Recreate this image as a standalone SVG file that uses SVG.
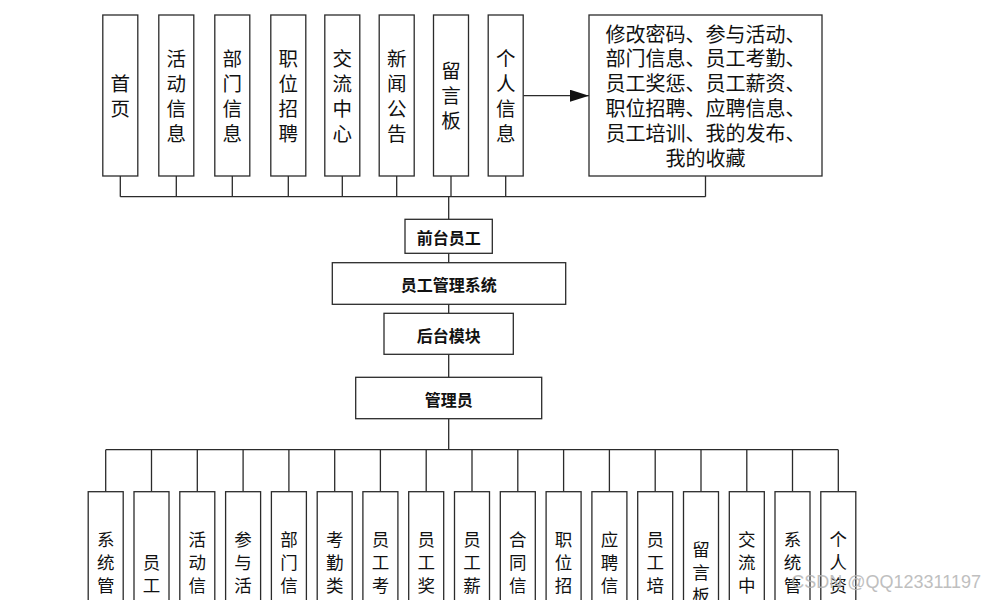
<svg xmlns="http://www.w3.org/2000/svg" width="984" height="600" viewBox="0 0 984 600">
<style>
.box{fill:#fff;stroke:#2b2b2b;stroke-width:1.3}
.ln{fill:none;stroke:#2b2b2b;stroke-width:1.3}
.t{font-family:"Noto Sans CJK SC","Liberation Sans",sans-serif;fill:#111;text-anchor:middle;dominant-baseline:central}
.top{font-size:19.5px}
.bot{font-size:17.5px}
.mid{font-size:16px;font-weight:bold}
.wm{font-family:"Liberation Sans",Arial,sans-serif;font-size:18px;fill:#b5b5b5;opacity:0.85;text-anchor:end}
</style>
<defs>
<marker id="arr" viewBox="0 0 19 12" refX="19" refY="6" markerWidth="19" markerHeight="12" markerUnits="userSpaceOnUse" orient="auto">
<path d="M0,0 L19,6 L0,12 z" fill="#111"/>
</marker>
</defs>
<rect width="984" height="600" fill="#fff"/>
<g id="connectors">
<path class="ln" d="M120.3,176 V196.7 M176.3,176 V196.7 M232.3,176 V196.7 M288.3,176 V196.7 M342.3,176 V196.7 M396.7,176 V196.7 M451,176 V196.7 M505.7,176 V196.7 M705.5,176 V196.7 M120.3,196.7 H705.5"/>
<path class="ln" d="M448.7,196.7 V219.3 M448.7,253.3 V262.7 M448.7,304.3 V313.3 M448.7,354.3 V377.3 M448.7,418.7 V449.7"/>
<path class="ln" d="M105.7,449.7 H838.3 M105.7,449.7 V491.7 M151.5,449.7 V491.7 M197.3,449.7 V491.7 M243.1,449.7 V491.7 M288.9,449.7 V491.7 M334.7,449.7 V491.7 M380.4,449.7 V491.7 M426.2,449.7 V491.7 M472,449.7 V491.7 M517.8,449.7 V491.7 M563.6,449.7 V491.7 M609.4,449.7 V491.7 M655.2,449.7 V491.7 M701,449.7 V491.7 M746.8,449.7 V491.7 M792.5,449.7 V491.7 M838.3,449.7 V491.7"/>
<path class="ln" d="M523.3,95.7 H589" marker-end="url(#arr)"/>
</g>
<g id="top-nodes">
<g id="n-shouye"><rect class="box" x="102.8" y="15" width="35" height="161"/><text class="t top"><tspan x="120.3" y="82">首</tspan><tspan x="120.3" y="107">页</tspan></text></g>
<g id="n-huodong"><rect class="box" x="158.8" y="15" width="35" height="161"/><text class="t top"><tspan x="176.3" y="57">活</tspan><tspan x="176.3" y="82">动</tspan><tspan x="176.3" y="107">信</tspan><tspan x="176.3" y="132">息</tspan></text></g>
<g id="n-bumen"><rect class="box" x="214.8" y="15" width="35" height="161"/><text class="t top"><tspan x="232.3" y="57">部</tspan><tspan x="232.3" y="82">门</tspan><tspan x="232.3" y="107">信</tspan><tspan x="232.3" y="132">息</tspan></text></g>
<g id="n-zhiwei"><rect class="box" x="270.8" y="15" width="35" height="161"/><text class="t top"><tspan x="288.3" y="57">职</tspan><tspan x="288.3" y="82">位</tspan><tspan x="288.3" y="107">招</tspan><tspan x="288.3" y="132">聘</tspan></text></g>
<g id="n-jiaoliu"><rect class="box" x="324.8" y="15" width="35" height="161"/><text class="t top"><tspan x="342.3" y="57">交</tspan><tspan x="342.3" y="82">流</tspan><tspan x="342.3" y="107">中</tspan><tspan x="342.3" y="132">心</tspan></text></g>
<g id="n-xinwen"><rect class="box" x="379.2" y="15" width="35" height="161"/><text class="t top"><tspan x="396.7" y="57">新</tspan><tspan x="396.7" y="82">闻</tspan><tspan x="396.7" y="107">公</tspan><tspan x="396.7" y="132">告</tspan></text></g>
<g id="n-liuyan"><rect class="box" x="433.5" y="15" width="35" height="161"/><text class="t top"><tspan x="451" y="69">留</tspan><tspan x="451" y="94">言</tspan><tspan x="451" y="119">板</tspan></text></g>
<g id="n-geren"><rect class="box" x="488.2" y="15" width="35" height="161"/><text class="t top"><tspan x="505.7" y="57">个</tspan><tspan x="505.7" y="82">人</tspan><tspan x="505.7" y="107">信</tspan><tspan x="505.7" y="132">息</tspan></text></g>
<g id="n-geren-detail"><rect class="box" x="589" y="15" width="233" height="161"/><text class="t" style="font-size:20px"><tspan x="705.5" y="32.5">修改密码、参与活动、</tspan><tspan x="705.5" y="57.4">部门信息、员工考勤、</tspan><tspan x="705.5" y="82.3">员工奖惩、员工薪资、</tspan><tspan x="705.5" y="107.2">职位招聘、应聘信息、</tspan><tspan x="705.5" y="132.1">员工培训、我的发布、</tspan><tspan x="705.5" y="157">我的收藏</tspan></text></g>
</g>
<g id="n-qiantai"><rect class="box" x="405" y="219.3" width="87.3" height="34"/><text class="t mid" x="448.7" y="237">前台员工</text></g>
<g id="n-system"><rect class="box" x="332.3" y="262.7" width="233.4" height="41.6"/><text class="t mid" x="448.7" y="284">员工管理系统</text></g>
<g id="n-houtai"><rect class="box" x="384" y="313.3" width="129.3" height="41"/><text class="t mid" x="448.7" y="334.5">后台模块</text></g>
<g id="n-admin"><rect class="box" x="355.7" y="377.3" width="186" height="41.4"/><text class="t mid" x="448.7" y="398.5">管理员</text></g>
<g id="bottom-nodes">
<g id="b1"><rect class="box" x="88.2" y="491.7" width="35" height="161"/><text class="t bot"><tspan x="105.7" y="537.5">系</tspan><tspan x="105.7" y="560.5">统</tspan><tspan x="105.7" y="583.5">管</tspan><tspan x="105.7" y="606.5">理</tspan></text></g>
<g id="b2"><rect class="box" x="134" y="491.7" width="35" height="161"/><text class="t bot"><tspan x="151.5" y="560.5">员</tspan><tspan x="151.5" y="583.5">工</tspan></text></g>
<g id="b3"><rect class="box" x="179.8" y="491.7" width="35" height="161"/><text class="t bot"><tspan x="197.3" y="537.5">活</tspan><tspan x="197.3" y="560.5">动</tspan><tspan x="197.3" y="583.5">信</tspan><tspan x="197.3" y="606.5">息</tspan></text></g>
<g id="b4"><rect class="box" x="225.6" y="491.7" width="35" height="161"/><text class="t bot"><tspan x="243.1" y="537.5">参</tspan><tspan x="243.1" y="560.5">与</tspan><tspan x="243.1" y="583.5">活</tspan><tspan x="243.1" y="606.5">动</tspan></text></g>
<g id="b5"><rect class="box" x="271.4" y="491.7" width="35" height="161"/><text class="t bot"><tspan x="288.9" y="537.5">部</tspan><tspan x="288.9" y="560.5">门</tspan><tspan x="288.9" y="583.5">信</tspan><tspan x="288.9" y="606.5">息</tspan></text></g>
<g id="b6"><rect class="box" x="317.2" y="491.7" width="35" height="161"/><text class="t bot"><tspan x="334.7" y="537.5">考</tspan><tspan x="334.7" y="560.5">勤</tspan><tspan x="334.7" y="583.5">类</tspan><tspan x="334.7" y="606.5">型</tspan></text></g>
<g id="b7"><rect class="box" x="362.9" y="491.7" width="35" height="161"/><text class="t bot"><tspan x="380.4" y="537.5">员</tspan><tspan x="380.4" y="560.5">工</tspan><tspan x="380.4" y="583.5">考</tspan><tspan x="380.4" y="606.5">勤</tspan></text></g>
<g id="b8"><rect class="box" x="408.7" y="491.7" width="35" height="161"/><text class="t bot"><tspan x="426.2" y="537.5">员</tspan><tspan x="426.2" y="560.5">工</tspan><tspan x="426.2" y="583.5">奖</tspan><tspan x="426.2" y="606.5">惩</tspan></text></g>
<g id="b9"><rect class="box" x="454.5" y="491.7" width="35" height="161"/><text class="t bot"><tspan x="472" y="537.5">员</tspan><tspan x="472" y="560.5">工</tspan><tspan x="472" y="583.5">薪</tspan><tspan x="472" y="606.5">资</tspan></text></g>
<g id="b10"><rect class="box" x="500.3" y="491.7" width="35" height="161"/><text class="t bot"><tspan x="517.8" y="537.5">合</tspan><tspan x="517.8" y="560.5">同</tspan><tspan x="517.8" y="583.5">信</tspan><tspan x="517.8" y="606.5">息</tspan></text></g>
<g id="b11"><rect class="box" x="546.1" y="491.7" width="35" height="161"/><text class="t bot"><tspan x="563.6" y="537.5">职</tspan><tspan x="563.6" y="560.5">位</tspan><tspan x="563.6" y="583.5">招</tspan><tspan x="563.6" y="606.5">聘</tspan></text></g>
<g id="b12"><rect class="box" x="591.9" y="491.7" width="35" height="161"/><text class="t bot"><tspan x="609.4" y="537.5">应</tspan><tspan x="609.4" y="560.5">聘</tspan><tspan x="609.4" y="583.5">信</tspan><tspan x="609.4" y="606.5">息</tspan></text></g>
<g id="b13"><rect class="box" x="637.7" y="491.7" width="35" height="161"/><text class="t bot"><tspan x="655.2" y="537.5">员</tspan><tspan x="655.2" y="560.5">工</tspan><tspan x="655.2" y="583.5">培</tspan><tspan x="655.2" y="606.5">训</tspan></text></g>
<g id="b14"><rect class="box" x="683.5" y="491.7" width="35" height="161"/><text class="t bot"><tspan x="701" y="548">留</tspan><tspan x="701" y="571">言</tspan><tspan x="701" y="594">板</tspan></text></g>
<g id="b15"><rect class="box" x="729.3" y="491.7" width="35" height="161"/><text class="t bot"><tspan x="746.8" y="537.5">交</tspan><tspan x="746.8" y="560.5">流</tspan><tspan x="746.8" y="583.5">中</tspan><tspan x="746.8" y="606.5">心</tspan></text></g>
<g id="b16"><rect class="box" x="775" y="491.7" width="35" height="161"/><text class="t bot"><tspan x="792.5" y="537.5">系</tspan><tspan x="792.5" y="560.5">统</tspan><tspan x="792.5" y="583.5">管</tspan><tspan x="792.5" y="606.5">理</tspan></text></g>
<g id="b17"><rect class="box" x="820.8" y="491.7" width="35" height="161"/><text class="t bot"><tspan x="838.3" y="537.5">个</tspan><tspan x="838.3" y="560.5">人</tspan><tspan x="838.3" y="583.5">资</tspan><tspan x="838.3" y="606.5">料</tspan></text></g>
</g>
<text class="wm" x="981" y="588">CSDN @QQ123311197</text>
</svg>
